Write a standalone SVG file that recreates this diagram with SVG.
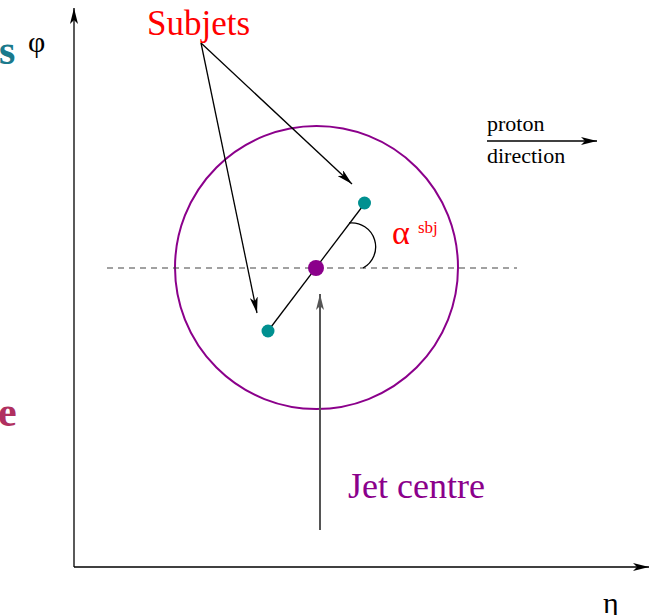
<svg xmlns="http://www.w3.org/2000/svg" width="649" height="615" viewBox="0 0 649 615">
<style>
.ln{stroke:#000;stroke-width:1.3;fill:none}
text{font-family:'Liberation Serif','DejaVu Serif','Times New Roman',serif}
</style>
<defs>
<marker id="ah" viewBox="0 0 16 8" refX="16" refY="4" markerWidth="16" markerHeight="8" markerUnits="userSpaceOnUse" orient="auto"><path d="M0,0 L16,4 L0,8 L4,4 Z" fill="#000"/></marker>
<marker id="ahg" viewBox="0 0 16 8" refX="16" refY="4" markerWidth="16" markerHeight="8" markerUnits="userSpaceOnUse" orient="auto"><path d="M0,0 L16,4 L0,8 L4,4 Z" fill="#555"/></marker>
</defs>
<rect width="649" height="615" fill="#fff"/>
<text x="-1" y="64" font-size="42" font-weight="bold" fill="#1a7a8c">s</text>
<text x="-2" y="426" font-size="42" font-weight="bold" fill="#b03060">e</text>
<g id="axes">
<line x1="74" y1="567" x2="74" y2="8" class="ln" marker-end="url(#ah)"/>
<line x1="74" y1="567" x2="649" y2="567" class="ln" marker-end="url(#ah)"/>
<text x="28" y="52" font-size="30" fill="#000">φ</text>
<text x="603" y="613" font-size="30" fill="#000">η</text>
</g>
<g id="jet-circle">
<circle cx="316.5" cy="267.5" r="141.5" fill="none" stroke="#8b008b" stroke-width="2"/>
</g>
<g id="connectors">
<line x1="107" y1="268" x2="517" y2="268" stroke="#444" stroke-width="1.2" stroke-dasharray="6,5"/>
<line x1="365" y1="203" x2="268" y2="331" class="ln"/>
<path d="M349 223 A24 24 0 0 1 363 268" class="ln"/>
<line x1="201" y1="43" x2="352" y2="184" class="ln" marker-end="url(#ah)"/>
<line x1="201" y1="43" x2="257" y2="313" class="ln" marker-end="url(#ah)"/>
<line x1="320" y1="530" x2="320" y2="294" stroke="#555" stroke-width="2" marker-end="url(#ahg)"/>
<line x1="487" y1="141" x2="597" y2="141" class="ln" marker-end="url(#ah)"/>
</g>
<g id="jet-centre">
<circle cx="316" cy="268" r="8" fill="#8b008b"/>
</g>
<g id="subjet1">
<circle cx="364.5" cy="203" r="6.5" fill="#009090"/>
</g>
<g id="subjet2">
<circle cx="268" cy="331" r="6.5" fill="#009090"/>
</g>
<g id="labels">
<text x="147" y="35" font-size="35" fill="#ff0000">Subjets</text>
<text x="392" y="244" font-size="34" fill="#ff0000">α</text>
<text x="418" y="233" font-size="17" fill="#ff0000">sbj</text>
<text x="348" y="498" font-size="36" fill="#8b008b">Jet centre</text>
<text x="487" y="131" font-size="22" fill="#000">proton</text>
<text x="487" y="163" font-size="22" fill="#000">direction</text>
</g>
</svg>
